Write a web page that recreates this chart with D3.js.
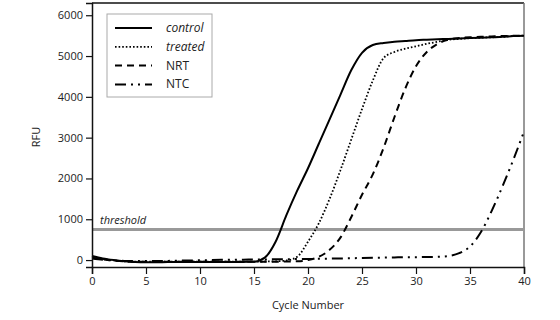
<!DOCTYPE html>
<html>
<head>
<meta charset="utf-8">
<script src="https://cdn.jsdelivr.net/npm/d3@7"></script>
<style>
  body { margin: 0; background: #fff; }
  text { font-family: "Open Sans", sans-serif; fill: #222; }
</style>
</head>
<body>
<div id="chart"></div>
<script>
let cycles = d3.range(0, 41)
let control = [100, 40, 0, -30, -50, -55, -55, -50, -50, -50, -50, -50, -50, -50, -45, -40, 60, 450, 1100, 1700, 2250, 2850, 3450, 4050, 4650, 5080, 5270, 5320, 5350, 5370, 5390, 5400, 5410, 5420, 5430, 5440, 5450, 5460, 5470, 5490, 5500]
let treated = [80, 30, -10, -30, -40, -40, -40, -40, -40, -40, -40, -40, -40, -40, -40, -40, -35, -30, -10, 80, 450, 900, 1500, 2200, 2950, 3700, 4400, 4950, 5100, 5180, 5240, 5300, 5350, 5400, 5420, 5440, 5450, 5460, 5470, 5490, 5500]
let nrt = [60, 20, -10, -30, -40, -40, -40, -40, -40, -40, -40, -40, -40, -40, -40, -40, -40, -40, -35, -30, 0, 80, 250, 550, 1050, 1600, 2100, 2750, 3500, 4200, 4750, 5100, 5300, 5400, 5440, 5460, 5470, 5480, 5490, 5495, 5500]
let ntc = [40, 10, -10, -20, -25, -25, -20, -20, -15, -10, -5, 0, 5, 10, 10, 15, 15, 20, 20, 25, 25, 30, 35, 40, 45, 50, 55, 60, 65, 70, 70, 75, 80, 100, 170, 330, 680, 1200, 1800, 2450, 3150]
let threshold = 750
let seriesNames = ['control', 'treated', 'NRT', 'NTC']
let seriesData = [control, treated, nrt, ntc]
let dashes = [null, '1.6,2', '7,5', '11,5,2,5,2,5']
let italics = [true, true, false, false]
let yTicks = [0, 1000, 2000, 3000, 4000, 5000, 6000]
let xTicks = [0, 5, 10, 15, 20, 25, 30, 35, 40]

function main () {
  let width = 560
  let height = 320
  let svg = d3.select('#chart').append('svg').attr('width', width).attr('height', height)

  let x = d3.scaleLinear().domain([0, 40]).range([92, 524])
  let y = d3.scaleLinear().domain([-170, 6300]).range([267, 3])

  // frame
  svg.append('line').attr('x1', 92).attr('x2', 524).attr('y1', 3).attr('y2', 3).attr('stroke', '#111').attr('stroke-width', 1.5)
  svg.append('line').attr('x1', 524).attr('x2', 524).attr('y1', 3).attr('y2', 267).attr('stroke', '#777').attr('stroke-width', 1.5)

  // threshold
  svg.append('line').attr('x1', x(0)).attr('x2', x(40)).attr('y1', y(threshold)).attr('y2', y(threshold))
    .attr('stroke', '#999').attr('stroke-width', 3)
  svg.append('text').attr('x', 100).attr('y', y(threshold) - 5).attr('font-size', 11).attr('font-style', 'italic').text('threshold')

  let line = d3.line().x((d, i) => x(cycles[i])).y((d) => y(d)).curve(d3.curveMonotoneX)
  seriesData.forEach((s, i) => {
    svg.append('path').datum(s).attr('d', line).attr('fill', 'none').attr('stroke', '#000')
      .attr('stroke-width', i === 1 ? 1.8 : 2).attr('stroke-dasharray', dashes[i])
  })

  let xAxis = svg.append('g').attr('transform', 'translate(0,267)')
    .call(d3.axisBottom(x).tickValues(xTicks).tickFormat(d3.format('d')).tickSize(7).tickPadding(3))
  let yAxis = svg.append('g').attr('transform', 'translate(92,0)')
    .call(d3.axisLeft(y).tickValues(yTicks).tickFormat(d3.format('d')).tickSize(6).tickPadding(3))
  for (let a of [xAxis, yAxis]) {
    a.select('.domain').attr('stroke', '#111').attr('stroke-width', 1.5)
    a.selectAll('.tick line').attr('stroke', '#111').attr('stroke-width', 1.2)
    a.selectAll('.tick text').attr('font-size', 11).attr('font-family', '"Open Sans", sans-serif').attr('fill', '#222')
  }

  svg.append('text').attr('x', 308).attr('y', 309).attr('text-anchor', 'middle').attr('font-size', 11).text('Cycle Number')
  svg.append('text').attr('transform', 'translate(40,137) rotate(-90)').attr('text-anchor', 'middle').attr('font-size', 11).text('RFU')

  // legend
  let lg = svg.append('g')
  lg.append('rect').attr('x', 107).attr('y', 14).attr('width', 105).attr('height', 83)
    .attr('fill', '#fff').attr('stroke', '#aaa').attr('stroke-width', 1)
  seriesNames.forEach((n, i) => {
    let yy = 28 + i * 18.8
    lg.append('line').attr('x1', 115).attr('x2', 152).attr('y1', yy).attr('y2', yy)
      .attr('stroke', '#000').attr('stroke-width', i === 1 ? 1.8 : 2).attr('stroke-dasharray', dashes[i])
    lg.append('text').attr('x', 166).attr('y', yy + 4).attr('font-size', 12)
      .attr('font-style', italics[i] ? 'italic' : 'normal').text(n)
  })
}

main()
</script>
</body>
</html>
